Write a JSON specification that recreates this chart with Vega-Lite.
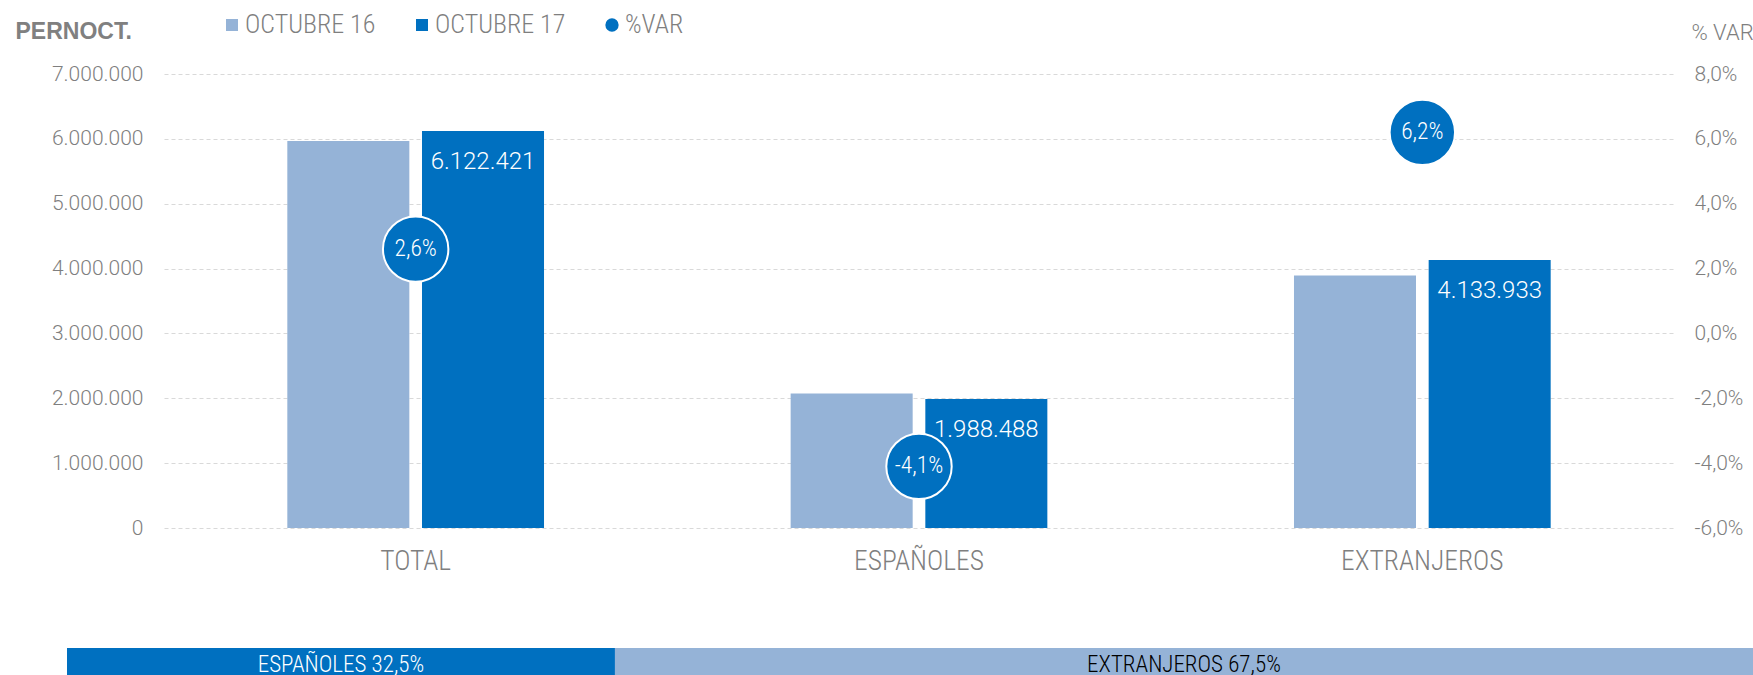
{
  "$schema": "https://vega.github.io/schema/vega-lite/v6.json",
  "padding": {"left": 15, "top": 12, "right": 0, "bottom": 0},
  "background": "white",
  "config": {
    "locale": {"number": {"decimal": ",", "thousands": ".", "grouping": [3], "currency": ["", " €"], "minus": "-"}},
    "view": {"stroke": null},
    "font": "Roboto"
  },
  "spacing": 73,
  "resolve": {"scale": {"color": "independent"}},
  "vconcat": [
    {
      "width": 1510,
      "height": 454,
      "layer": [
        {
          "data": {"values": [
            {"cat": "TOTAL", "serie": "OCTUBRE 16", "value": 5967272},
            {"cat": "TOTAL", "serie": "OCTUBRE 17", "value": 6122421},
            {"cat": "ESPAÑOLES", "serie": "OCTUBRE 16", "value": 2073502},
            {"cat": "ESPAÑOLES", "serie": "OCTUBRE 17", "value": 1988488},
            {"cat": "EXTRANJEROS", "serie": "OCTUBRE 16", "value": 3892592},
            {"cat": "EXTRANJEROS", "serie": "OCTUBRE 17", "value": 4133933}
          ]},
          "layer": [
            {
              "mark": {"type": "bar"},
              "encoding": {
                "x": {"field": "cat", "type": "nominal", "sort": ["TOTAL", "ESPAÑOLES", "EXTRANJEROS"],
                  "scale": {"paddingInner": 0.49, "paddingOuter": 0.245},
                  "axis": {"title": null, "orient": "bottom", "labelAngle": 0, "labelFont": "Liberation Sans Narrow, Roboto Condensed, Roboto", "labelFontWeight": 300, "labelFontSize": 27.5, "labelColor": "#7f7f7f", "labelPadding": 19, "domain": false, "ticks": false}},
                "xOffset": {"field": "serie", "type": "nominal", "sort": ["OCTUBRE 16", "OCTUBRE 17"], "scale": {"paddingInner": 0.094, "paddingOuter": 0}},
                "y": {"field": "value", "type": "quantitative", "scale": {"domain": [0, 7000000], "nice": false},
                  "axis": {"orient": "left", "title": "PERNOCT.", "titleAngle": 0, "titleAlign": "left", "titleBaseline": "middle", "titleX": -149, "titleY": -43, "titleFont": "Liberation Sans", "titleFontSize": 23, "titleFontWeight": "bold", "titleColor": "#808080",
                    "values": [0, 1000000, 2000000, 3000000, 4000000, 5000000, 6000000, 7000000], "format": ",d",
                    "labelFont": "Roboto", "labelFontWeight": 300, "labelFontSize": 21, "labelColor": "#7f7f7f", "labelPadding": 21,
                    "domain": false, "ticks": false, "grid": true, "gridColor": "#d9d9d9", "gridDash": [4, 3], "gridWidth": 1}},
                "color": {"field": "serie", "type": "nominal",
                  "scale": {"domain": ["OCTUBRE 16", "OCTUBRE 17", "%VAR"], "range": ["#95b3d7", "#0070c0", "#0070c0"]},
                  "legend": {"orient": "none", "legendX": 55, "legendY": -62, "direction": "horizontal", "columns": 3, "title": null,
                    "labelFont": "Liberation Sans Narrow, Roboto Condensed, Roboto", "labelFontWeight": 300, "labelFontSize": 26, "labelColor": "#7f7f7f", "labelOffset": 0,
                    "symbolSize": 160, "symbolType": "square", "symbolStrokeWidth": 0, "columnPadding": 33,
                    "encode": {"symbols": {"update": {"shape": {"signal": "datum.value === '%VAR' ? 'circle' : 'square'"}, "size": {"signal": "datum.value === '%VAR' ? 177 : 144"}}}}}}
              }
            },
            {
              "transform": [{"filter": "datum.serie == 'OCTUBRE 17'"}],
              "mark": {"type": "text", "dy": 31, "color": "white", "fontSize": 24, "fontWeight": 300, "font": "Roboto", "baseline": "middle"},
              "encoding": {
                "x": {"field": "cat", "type": "nominal", "sort": ["TOTAL", "ESPAÑOLES", "EXTRANJEROS"]},
                "xOffset": {"field": "serie", "type": "nominal", "sort": ["OCTUBRE 16", "OCTUBRE 17"]},
                "y": {"field": "value", "type": "quantitative"},
                "text": {"field": "value", "type": "quantitative", "format": ",d"}
              }
            }
          ]
        },
        {
          "data": {"values": [
            {"cat": "TOTAL", "serie": "%VAR", "var": 0.026},
            {"cat": "ESPAÑOLES", "serie": "%VAR", "var": -0.041},
            {"cat": "EXTRANJEROS", "serie": "%VAR", "var": 0.062}
          ]},
          "layer": [
            {
              "mark": {"type": "point", "filled": true, "size": 4277, "stroke": "white", "strokeWidth": 2, "opacity": 1, "strokeOpacity": 1},
              "encoding": {
                "x": {"field": "cat", "type": "nominal", "sort": ["TOTAL", "ESPAÑOLES", "EXTRANJEROS"]},
                "y": {"field": "var", "type": "quantitative", "scale": {"domain": [-0.06, 0.08], "nice": false, "zero": false},
                  "axis": {"orient": "right", "values": [-0.06, -0.04, -0.02, 0, 0.02, 0.04, 0.06, 0.08], "format": ".1%",
                    "labelFont": "Roboto", "labelFontWeight": 300, "labelFontSize": 21, "labelColor": "#7f7f7f", "labelPadding": 20,
                    "title": "% VAR", "titleAngle": 0, "titleAlign": "left", "titleBaseline": "middle", "titleX": 17, "titleY": -41.5,
                    "titleFont": "Roboto", "titleFontWeight": 300, "titleFontSize": 22, "titleColor": "#7f7f7f",
                    "grid": false, "domain": false, "ticks": false}},
                "color": {"field": "serie", "type": "nominal"}
              }
            },
            {
              "mark": {"type": "text", "color": "white", "font": "Liberation Sans Narrow, Roboto Condensed, Roboto", "fontWeight": 300, "fontSize": 23.5, "baseline": "middle"},
              "encoding": {
                "x": {"field": "cat", "type": "nominal", "sort": ["TOTAL", "ESPAÑOLES", "EXTRANJEROS"]},
                "y": {"field": "var", "type": "quantitative"},
                "text": {"field": "var", "type": "quantitative", "format": ".1%"}
              }
            }
          ]
        }
      ],
      "resolve": {"scale": {"y": "independent"}}
    },
    {
      "width": 1589,
      "height": 30,
      "data": {"values": [
        {"seg": "ESPAÑOLES", "pct": 32.5, "label": "ESPAÑOLES 32,5%", "row": "a"},
        {"seg": "EXTRANJEROS", "pct": 67.5, "label": "EXTRANJEROS 67,5%", "row": "a"}
      ]},
      "layer": [
        {
          "mark": {"type": "bar"},
          "encoding": {
            "x": {"field": "pct", "type": "quantitative", "stack": "zero", "scale": {"domain": [0, 100], "range": [-97, 1589], "nice": false}, "axis": null},
            "y": {"field": "row", "type": "nominal", "scale": {"paddingInner": 0, "paddingOuter": 0}, "axis": null},
            "color": {"field": "seg", "type": "nominal", "sort": ["ESPAÑOLES", "EXTRANJEROS"],
              "scale": {"domain": ["ESPAÑOLES", "EXTRANJEROS"], "range": ["#0070c0", "#95b3d7"]}, "legend": null}
          }
        },
        {
          "transform": [
            {"stack": "pct", "groupby": ["row"], "as": ["x0", "x1"], "sort": [{"field": "seg"}]},
            {"calculate": "(datum.x0 + datum.x1) / 2", "as": "mid"}
          ],
          "mark": {"type": "text", "font": "Liberation Sans Narrow, Roboto Condensed, Roboto", "fontWeight": 300, "fontSize": 23, "baseline": "middle", "dy": 2},
          "encoding": {
            "x": {"field": "mid", "type": "quantitative"},
            "y": {"field": "row", "type": "nominal"},
            "text": {"field": "label", "type": "nominal"},
            "color": {"condition": {"test": "datum.seg == 'ESPAÑOLES'", "value": "white"}, "value": "black"}
          }
        }
      ]
    }
  ]
}
